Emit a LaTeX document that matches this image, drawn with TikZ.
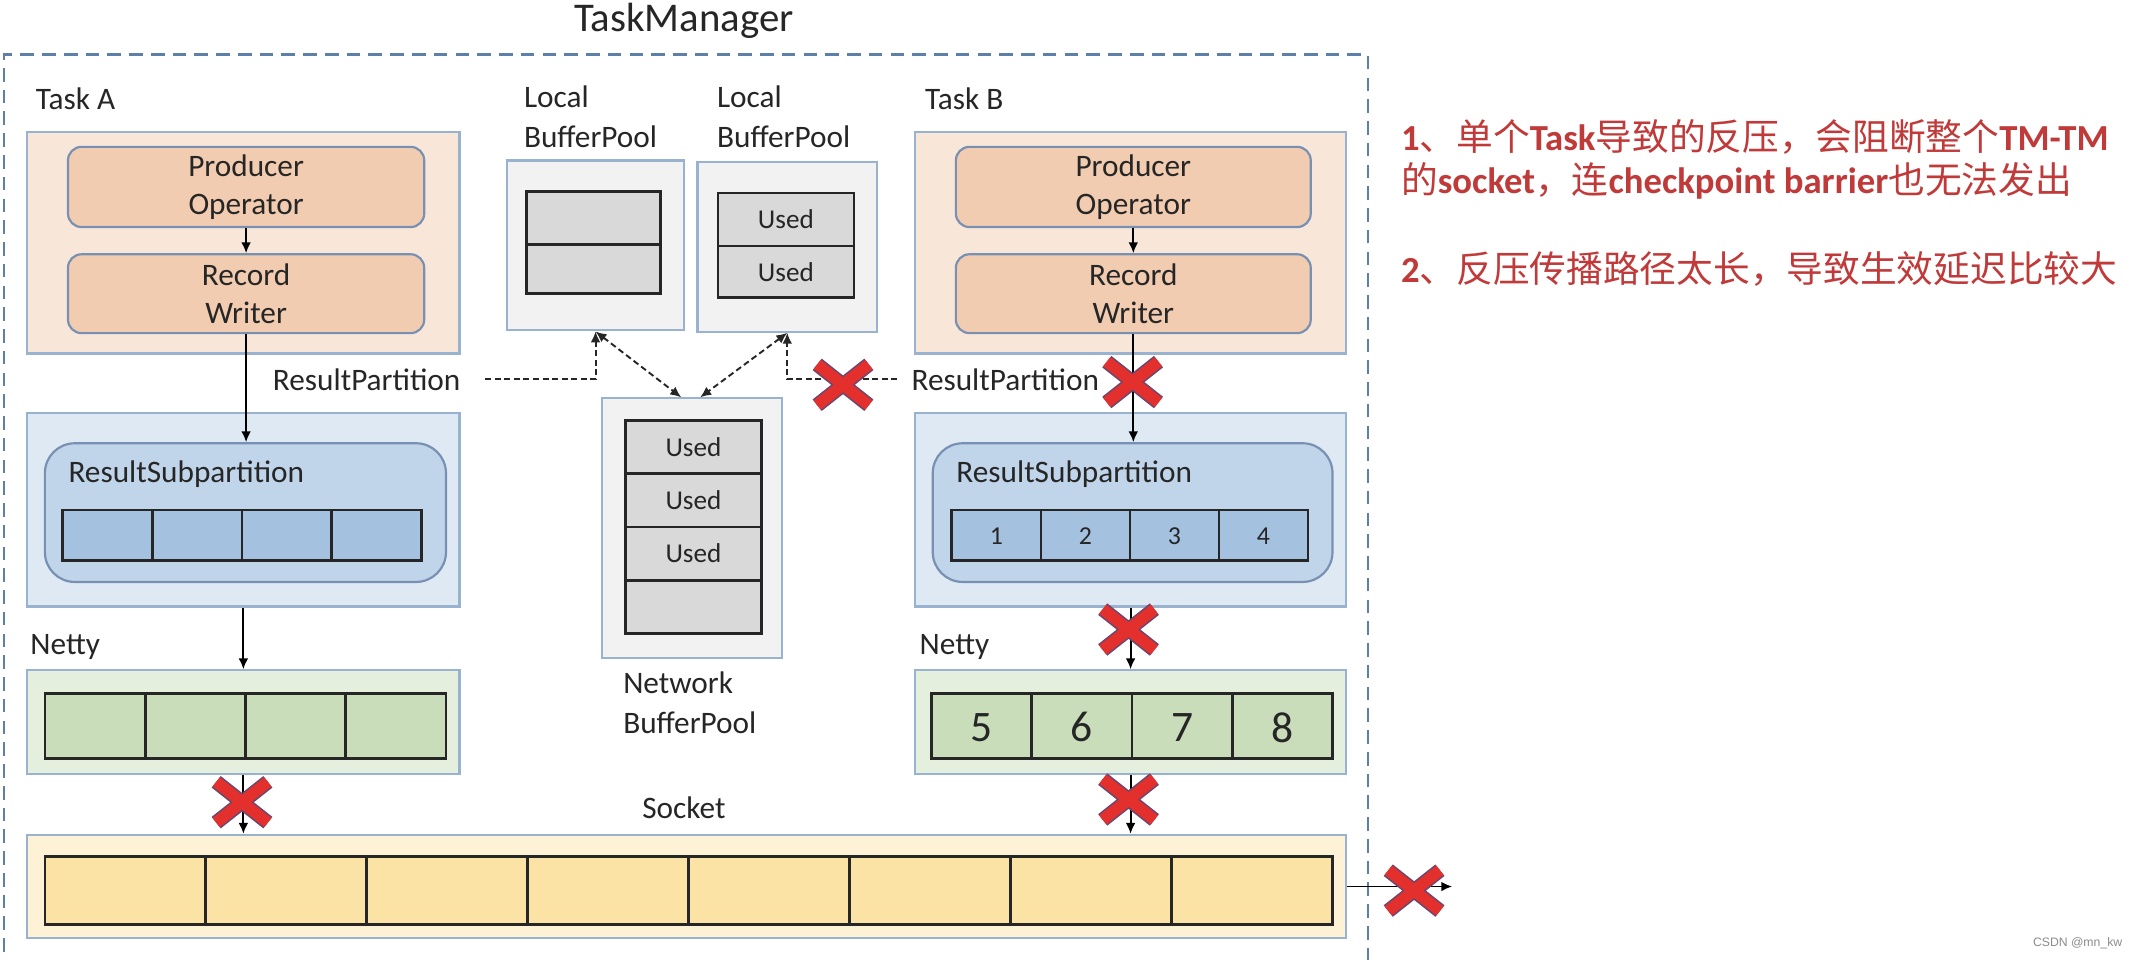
\documentclass[tikz,border=0pt]{standalone}
\usepackage{fontspec}
\setmainfont{Carlito}
\newfontfamily\cjk{Noto Sans CJK SC}
\newfontfamily\wmfont{Liberation Sans}
\usetikzlibrary{arrows.meta,fit}
\definecolor{framec}{RGB}{92,128,168}
\definecolor{boxb}{RGB}{152,178,208}
\definecolor{rndb}{RGB}{120,145,178}
\definecolor{peachout}{RGB}{248,230,216}
\definecolor{peachin}{RGB}{242,204,176}
\definecolor{blueout}{RGB}{222,233,244}
\definecolor{bluein}{RGB}{192,212,234}
\definecolor{bluecell}{RGB}{164,193,224}
\definecolor{greenout}{RGB}{228,239,221}
\definecolor{greencell}{RGB}{201,221,186}
\definecolor{yelout}{RGB}{253,241,214}
\definecolor{yelcell}{RGB}{250,227,164}
\definecolor{grayout}{RGB}{242,242,242}
\definecolor{graycell}{RGB}{217,217,217}
\definecolor{xred}{RGB}{228,48,44}
\definecolor{xedge}{RGB}{110,70,110}
\definecolor{notered}{RGB}{192,58,58}
\definecolor{txt}{RGB}{38,38,38}
\begin{document}
\begin{tikzpicture}[x=0.5pt,y=-0.5pt,
  every node/.style={text=txt},
  boxo/.style={draw=boxb,line width=0.8pt,inner sep=0pt},
  rnd/.style={draw=rndb,line width=0.8pt,inner sep=0pt,rounded corners=5pt},
  rndbig/.style={draw=rndb,line width=0.8pt,inner sep=0pt,rounded corners=11pt},
  cellbox/.style={draw=black!85,line width=1pt,inner sep=0pt},
  cellln/.style={draw=black!85,line width=1pt},
  lbl/.style={inner sep=0pt,font=\fontsize{11.5}{14}\selectfont},
  twolbl/.style={inner sep=0pt,align=left,font=\fontsize{11.5}{14.5}\selectfont},
  boxtxt/.style={inner sep=0pt,align=center,font=\fontsize{11.5}{14}\selectfont},
  usedtxt/.style={inner sep=0pt,font=\fontsize{10}{12}\selectfont},
  smallnum/.style={inner sep=0pt,font=\fontsize{9.5}{11}\selectfont},
  bignum/.style={inner sep=0pt,font=\fontsize{16}{18}\selectfont},
  arr/.style={-{Latex[length=4pt,width=3.6pt]},line width=0.7pt,black},
  darr/.style={dash pattern=on 2.2pt off 1.3pt,line width=0.7pt,black!85},
  notetxt/.style={inner sep=0pt,anchor=west,text=notered,font=\fontsize{13.5}{16}\selectfont},
  redx/.pic={
    \draw[xedge,line width=5.4pt] (-19,-15)--(19,15) (-19,15)--(19,-15);
    \draw[xred,line width=4.2pt] (-19,-15)--(19,15) (-19,15)--(19,-15);
  }
]
\useasboundingbox (0,0) rectangle (1568,706);
\fill[white] (0,0) rectangle (1568,706);

% title and frame
\node[inner sep=0pt,font=\fontsize{15}{18}\selectfont] (tmtitle) at (503,15) {TaskManager};
\node[draw=framec,line width=1pt,dash pattern=on 5pt off 3pt,inner sep=0pt,fit={(3,40)(1006,760)}] (tm) {};

% ---------------- Task A ----------------
\node[lbl,anchor=west] (taskAlab) at (26,73) {Task A};
\node[boxo,fill=peachout,fit={(20,97)(338,260)}] (taskA) {};
\node[rnd,fill=peachin,fit={(50,108)(312,167)}] (poA) {};
\node[boxtxt] (poAt) at (poA.center) {Producer\\Operator};
\node[rnd,fill=peachin,fit={(50,187)(312,245)}] (rwA) {};
\node[boxtxt] (rwAt) at (rwA.center) {Record\\Writer};

\node[lbl,anchor=east] (rpAlab) at (339,279) {ResultPartition};
\node[boxo,fill=blueout,fit={(20,304)(338,446)}] (rpA) {};
\node[rndbig,fill=bluein,fit={(33,326)(328,428)}] (rspA) {};
\node[lbl,anchor=west] (rspAlab) at (50,349) {ResultSubpartition};
\node[cellbox,fill=bluecell,fit={(46,375)(310,412)}] (cellA) {};
\foreach \i in {1,2,3}{\draw[cellln] ({46+\i*66},375) -- ({46+\i*66},412);}

\node[lbl,anchor=west] (netAlab) at (22,476) {Netty};
\node[boxo,fill=greenout,fit={(20,493)(338,569)}] (netA) {};
\node[cellbox,fill=greencell,fit={(33,510)(328,558)}] (netAc) {};
\foreach \i in {1,2,3}{\draw[cellln] ({33+\i*73.75},510) -- ({33+\i*73.75},558);}

% ---------------- Socket ----------------
\node[lbl] (socklab) at (503,594) {Socket};
\node[boxo,fill=yelout,fit={(20,614)(990,690)}] (sock) {};
\node[cellbox,fill=yelcell,fit={(33,630)(980,680)}] (sockc) {};
\foreach \i in {1,...,7}{\draw[cellln] ({33+\i*118.375},630) -- ({33+\i*118.375},680);}

% ---------------- Buffer pools ----------------
\node[twolbl,anchor=north west] (lbp1lab) at (385,63) {Local\\BufferPool};
\node[boxo,fill=grayout,fit={(373,118)(503,243)}] (lbp1) {};
\node[cellbox,fill=graycell,fit={(387,141)(486,216)}] (lbp1c) {};
\draw[cellln] (387,180) -- (486,180);

\node[twolbl,anchor=north west] (lbp2lab) at (527,63) {Local\\BufferPool};
\node[boxo,fill=grayout,fit={(513,119)(645,244)}] (lbp2) {};
\node[cellbox,fill=graycell,fit={(528,142)(628,219)}] (lbp2c) {};
\draw[cellln] (528,181) -- (628,181);
\node[usedtxt] (u1) at (578,161.5) {Used};
\node[usedtxt] (u2) at (578,200) {Used};

\node[boxo,fill=grayout,fit={(443,293)(575,484)}] (nbp) {};
\node[cellbox,fill=graycell,fit={(460,309)(560,466)}] (nbpc) {};
\foreach \i in {1,2,3}{\draw[cellln] (460,{309+\i*39.25}) -- (560,{309+\i*39.25});}
\foreach \i in {1,2,3}{\node[usedtxt] at (510,{309+(\i-0.5)*39.25}) {Used};}
\node[twolbl,anchor=north west] (nbplab) at (458,494) {Network\\BufferPool};

% ---------------- Task B ----------------
\node[lbl,anchor=west] (taskBlab) at (680,73) {Task B};
\node[boxo,fill=peachout,fit={(673,97)(990,260)}] (taskB) {};
\node[rnd,fill=peachin,fit={(703,108)(964,167)}] (poB) {};
\node[boxtxt] (poBt) at (poB.center) {Producer\\Operator};
\node[rnd,fill=peachin,fit={(703,187)(964,245)}] (rwB) {};
\node[boxtxt] (rwBt) at (rwB.center) {Record\\Writer};

\node[lbl,anchor=west] (rpBlab) at (670,279) {ResultPartition};
\node[boxo,fill=blueout,fit={(673,304)(990,446)}] (rpB) {};
\node[rndbig,fill=bluein,fit={(686,326)(980,428)}] (rspB) {};
\node[lbl,anchor=west] (rspBlab) at (703,349) {ResultSubpartition};
\node[cellbox,fill=bluecell,fit={(700,375)(962,412)}] (cellB) {};
\foreach \i in {1,2,3}{\draw[cellln] ({700+\i*65.5},375) -- ({700+\i*65.5},412);}
\foreach \i in {1,...,4}{\node[smallnum] at ({700+(\i-0.5)*65.5},394) {\i};}

\node[lbl,anchor=west] (netBlab) at (676,476) {Netty};
\node[boxo,fill=greenout,fit={(673,493)(990,569)}] (netB) {};
\node[cellbox,fill=greencell,fit={(685,510)(980,558)}] (netBc) {};
\foreach \i in {1,2,3}{\draw[cellln] ({685+\i*73.75},510) -- ({685+\i*73.75},558);}
\foreach \n [count=\i] in {5,6,7,8}{\node[bignum] at ({685+(\i-0.5)*73.75},535) {\n};}

% ---------------- connectors ----------------
\draw[arr] (poA) -- (rwA);
\draw[arr] (rwA.south) -- (rwA.south |- rspA.north);
\draw[arr] (rpA.south) -- (rpA.south |- netA.north);
\draw[arr] (netA.south) -- (netA.south |- sock.north);
\draw[arr] (poB) -- (rwB);
\draw[arr] (rwB.south) -- (rwB.south |- rspB.north);
\draw[arr] (rpB.south) -- (rpB.south |- netB.north);
\draw[arr] (netB.south) -- (netB.south |- sock.north);
\coordinate (sockout) at (1068,652);
\draw[arr] (sock.east) -- (sockout);

\draw[darr,-{Latex[length=4pt,width=3.6pt]}] ([xshift=9pt]rpAlab.east) -| (lbp1.south);
\draw[darr,{Latex[length=4pt,width=3.6pt]}-{Latex[length=4pt,width=3.6pt]}] (lbp1.south) -- ([xshift=-4pt]nbp.north);
\draw[darr,{Latex[length=4pt,width=3.6pt]}-{Latex[length=4pt,width=3.6pt]}] (lbp2.south) -- ([xshift=3pt]nbp.north);
\draw[darr,-{Latex[length=4pt,width=3.6pt]}] ([xshift=-5pt]rpBlab.west) -| (lbp2.south);

% ---------------- red crosses ----------------
\pic at (178,590) {redx};
\pic at (620,283) {redx};
\pic at (833,281) {redx};
\pic at (830,463) {redx};
\pic at (830,588) {redx};
\pic at (1040,655) {redx};

% ---------------- notes ----------------
\node[notetxt] (n1) at (1030,101) {\textbf{1}{\cjk 、单个}\textbf{Task}{\cjk 导致的反压，会阻断整个}\textbf{TM-TM}};
\node[notetxt] (n2) at (1030,133) {{\cjk 的}\textbf{socket}{\cjk ，连}\textbf{checkpoint barrier}{\cjk 也无法发出}};
\node[notetxt] (n3) at (1030,198) {\textbf{2}{\cjk 、反压传播路径太长，导致生效延迟比较大}};

\node[inner sep=0pt,font=\wmfont\fontsize{4.5}{5}\selectfont,text=black!45] (wm) at (1528,694) {CSDN @mn\_kw};
\end{tikzpicture}
\end{document}
